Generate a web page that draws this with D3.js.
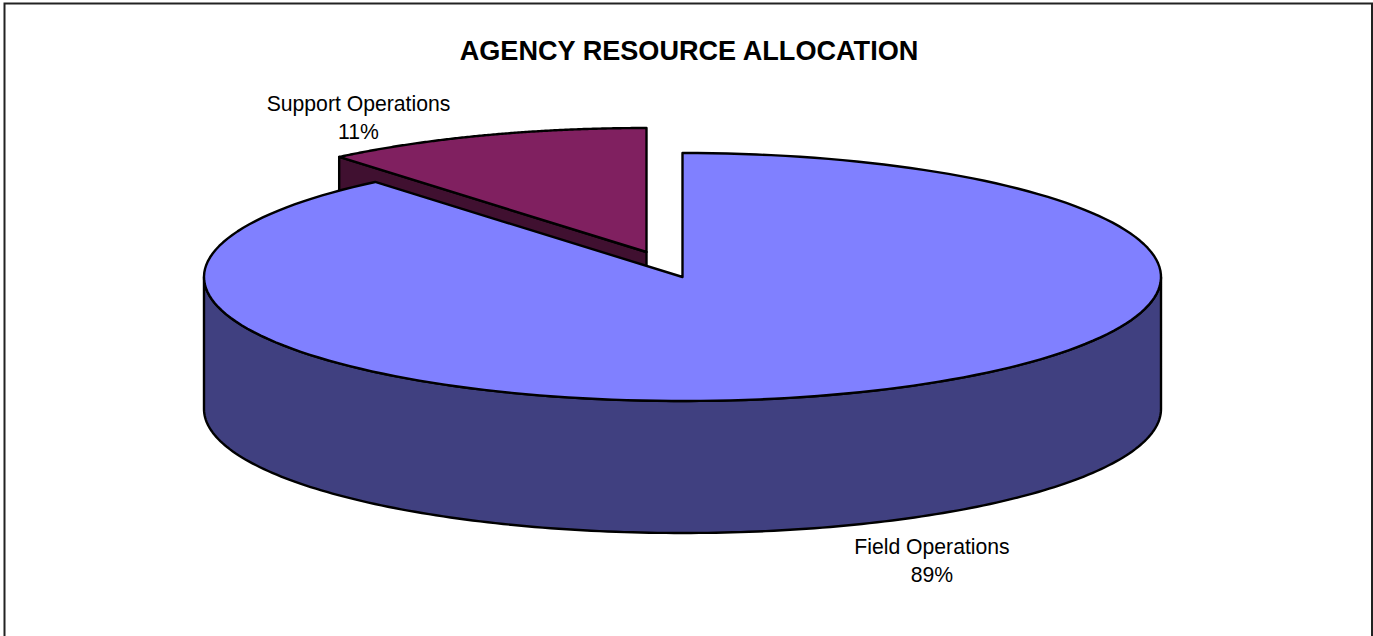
<!DOCTYPE html>
<html lang="en">
<head>
  <meta charset="UTF-8" />
  <title>Agency Resource Allocation</title>
  <style>
    html, body { margin: 0; padding: 0; background: #fff; overflow: hidden; }
    svg { display: block; }
    text { font-family: "Liberation Sans", sans-serif; fill: #000; text-anchor: middle; }
  </style>
</head>
<body>
  <svg width="1373" height="636"></svg>
  <script src="https://d3js.org/d3.v7.min.js"></script>
  <script>
    const titleText = 'AGENCY RESOURCE ALLOCATION';
    const categories = ['Field Operations', 'Support Operations'];
    const shares = [88.9, 11.1];
    const topColors = ['#8080ff', '#802060'];
    const sideColors = ['#404080', '#401030'];

    const svg = d3.select('svg');
    const cx = 682.5, cy = 277, rx = 478.5, ry = 124, depth = 132;
    const explode = { dx: -36, dy: -25 };

    // flat pie circle squashed to an ellipse
    const xScale = d3.scaleLinear().domain([-1, 1]).range([cx - rx, cx + rx]);
    const yScale = d3.scaleLinear().domain([-1, 1]).range([cy - ry, cy + ry]);
    const pt = (a, dx = 0, dy = 0) => [xScale(Math.sin(a)) + dx, yScale(-Math.cos(a)) + dy];

    const slices = d3.pie().sort(null)(shares);
    const line = d3.line();
    const pct = d3.format('.0f');

    function rim(a0, a1, dx, dy) {
      const n = 180;
      return d3.range(n + 1).map(i => pt(a0 + (a1 - a0) * i / n, dx, dy));
    }

    function topFace(s, dx, dy) {
      return line([[cx + dx, cy + dy], ...rim(s.startAngle, s.endAngle, dx, dy)]) + 'Z';
    }

    const g = svg.append('g')
      .attr('stroke', '#000')
      .attr('stroke-width', 2.4)
      .attr('stroke-linejoin', 'round');

    // frame, bottom edge falls outside the photo
    svg.append('path')
      .attr('d', 'M4.5,640V3.5H1372V640')
      .attr('fill', 'none')
      .attr('stroke', '#222')
      .attr('stroke-width', 2);

    // exploded slice first, the big one sits in front of it
    const small = slices[1];
    const off = explode;
    const cutA = pt(small.startAngle, off.dx, off.dy);
    const apex = [cx + off.dx, cy + off.dy];
    g.append('path')
      .attr('d', line([cutA, [cutA[0], cutA[1] + depth], [apex[0], apex[1] + depth], apex]) + 'Z')
      .attr('fill', sideColors[1]);
    g.append('path')
      .attr('d', topFace(small, off.dx, off.dy))
      .attr('fill', topColors[1]);

    // main slice: front wall then top
    const main = slices[0];
    const front = rim(Math.PI / 2, 3 * Math.PI / 2, 0, 0);
    const frontLow = front.map(p => [p[0], p[1] + depth]).reverse();
    g.append('path')
      .attr('d', line([...front, ...frontLow]) + 'Z')
      .attr('fill', sideColors[0]);
    g.append('path')
      .attr('d', topFace(main, 0, 0))
      .attr('fill', topColors[0]);

    svg.append('text')
      .attr('x', 689).attr('y', 60)
      .attr('font-size', 27.1).attr('font-weight', 'bold')
      .text(titleText);

    const labelAnchors = [[932, 554], [358.5, 111]];
    categories.forEach((name, i) => {
      const t = svg.append('text').attr('font-size', 21.2);
      t.append('tspan').attr('x', labelAnchors[i][0]).attr('y', labelAnchors[i][1]).text(name);
      t.append('tspan').attr('x', labelAnchors[i][0]).attr('y', labelAnchors[i][1] + 28).text(pct(shares[i]) + '%');
    });
  </script>
</body>
</html>
